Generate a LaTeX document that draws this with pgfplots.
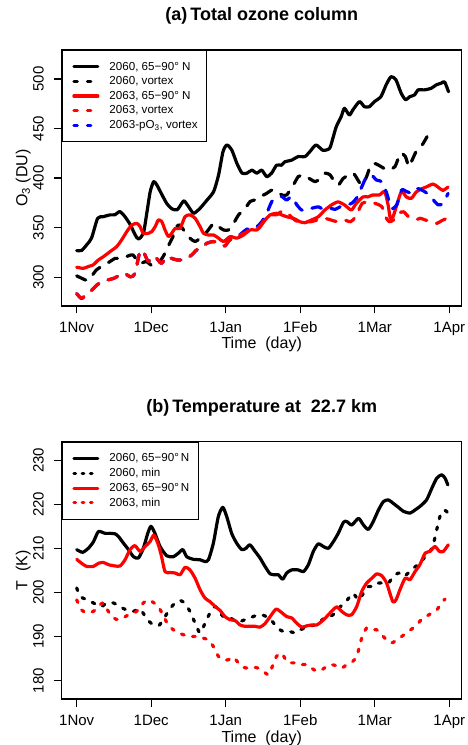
\documentclass[border=0pt]{standalone}
\usepackage{fontspec}
\setmainfont{Liberation Sans}
\usepackage{pgfplots}
\pgfplotsset{compat=1.18}
\begin{document}
\begin{tikzpicture}[x=1pt,y=1pt]
\path[use as bounding box] (0pt,0pt) rectangle (467pt,745pt);
\clip (0pt,0pt) rectangle (467pt,745pt);
\pgfplotsset{
 myaxis/.style={
  scale only axis, width=400pt,
  xmin=-6.08, xmax=156.03,
  xtick={0,30.2,60.4,90.6,120.8,151},
  xticklabels={1Nov,1Dec,1Jan,1Feb,1Mar,1Apr},
  tick align=outside, major tick length=7.5pt,
  xtick pos=left, ytick pos=left,
  tick style={black, line width=1.2pt},
  axis line style={line width=1.2pt},
  ticklabel style={font=\fontsize{15}{15}\selectfont},
  /pgf/number format/assume math mode=true,
  yticklabel style={rotate=90, anchor=base},
  yticklabel shift=10.5pt,
  xticklabel style={anchor=base},
  xticklabel shift=18.8pt,
  label style={font=\fontsize{16}{16}\selectfont},
  xlabel={Time\ \ (day)},
  xlabel style={at={(axis description cs:0.5,0)}, anchor=base, yshift=-43pt},
  ylabel style={at={(axis description cs:-0.08575,0.5)}, anchor=base},
  title style={at={(axis description cs:0.5,1)}, anchor=base, yshift=23pt, font=\bfseries\fontsize{18}{18}\selectfont},
  legend cell align=left,
  legend style={at={(0,1)}, anchor=north west, draw=black, line width=1.2pt, fill=white,
    font=\fontsize{11.6}{14}\selectfont, inner xsep=7pt, inner ysep=9.5pt, row sep=1pt,
    /tikz/every odd column/.style={column sep=8pt}},
  legend image code/.code={\path (0pt,0pt); \draw[##1] (3pt,0pt) -- (27pt,0pt);},
  every axis plot/.append style={line width=3.2pt, line cap=round, line join=round, smooth, tension=0.4},
 },
 dsh/.style={dash pattern=on 10pt off 10pt},
 dot/.style={dash pattern=on 2.8pt off 8.5pt},
 ldsh/.style={dash pattern=on 3.5pt off 10pt, line width=3.2pt, line cap=round},
 ldot/.style={dash pattern=on 1.6pt off 6.7pt, line width=3.2pt, line cap=round},
 lsol/.style={line width=3.2pt},
}
\begin{axis}[myaxis, at={(61.7pt,439pt)}, anchor=south west, height=256pt,
  ymin=271, ymax=529.2, ytick={300,350,400,450,500},
  ylabel={O\textsubscript{3} (DU)},
  title={(a)\,Total ozone column}]
\addlegendimage{lsol, black}\addlegendentry{2060, 65−90° N}
\addlegendimage{ldsh, black}\addlegendentry{2060, vortex}
\addlegendimage{lsol, red}\addlegendentry{2063, 65−90° N}
\addlegendimage{ldsh, red}\addlegendentry{2063, vortex}
\addlegendimage{ldsh, blue}\addlegendentry{2063-pO\textsubscript{3}, vortex}
% 2060 65-90N
\addplot[black, forget plot] coordinates {(0,326.9)(2,327)(4,332.6)(6,339.4)(8.5,359.5)(10.8,361.1)(13.5,362.9)(15.5,363)(17.5,366.2)(19.6,361)(21.7,353)(23.7,342.7)(25,338.6)(27,344)(28.4,364.5)(29.8,386.4)(31.2,396.4)(32.5,393)(34.6,383)(36.6,374)(38.6,369)(40.7,368)(42.7,375)(43.6,377)(45.4,371)(47.4,364.5)(50,369.6)(52.8,377.8)(55.5,386.4)(57.5,403.2)(59.3,426.7)(60.9,433.4)(62.9,428)(64.9,415)(67,405)(69,405)(71,408)(73,405)(75,408)(77,401.5)(79,405)(81,413)(83,413)(84.4,416.5)(87,418)(89.8,421.7)(92.5,421.7)(94.5,426.7)(97,433.4)(99.8,428)(102.5,430)(103.8,440)(105.2,451.9)(107.2,462)(108.5,470.4)(110.5,463.6)(111.9,468.7)(114.6,477.1)(116.6,472)(118.6,472)(120.6,477)(123.3,482.2)(125.4,494)(127.4,502.3)(129.4,499)(131.5,485.6)(133.3,479)(134.9,482)(137,484)(138.3,488.9)(141,489)(143.7,490.6)(145.7,494)(147.7,495.7)(149.1,497)(150.7,487)};
% 2060 vortex
\addplot[black, dsh, forget plot] coordinates {(0,301.4)(2,299)(4.4,296.7)(6,300.8)(8,307.4)(10.8,312)(13.5,315.8)(15.5,319)(17.5,319)(20,320.7)(22.8,322.5)(25.4,314)(28.2,315.8)(31,310.8)(33,314)(35,320.7)(37,330.9)(39,341)(40.5,351)(41.8,352.6)(43.8,346)(45.9,339.4)(48,336)(50,339.4)(52.8,346)(55.5,354.3)(57.5,351)(59.5,347.7)(61.5,347.7)(63.5,354)(65.6,362.9)(68.3,369.6)(70.3,376.4)(72.3,378)(74.4,381.3)(77,384.6)(79.1,388)(81.1,386.4)(83.1,383)(85.1,383)(87.8,393)(89.8,401.5)(92,403)(94,400)(96.7,396.4)(98.7,399.7)(100.8,405)(102.8,403)(104,398)(106,393)(108,399.7)(110.2,403)(112.1,405)(113.5,400)(115.5,393)(117.5,401.5)(118.9,411.6)(120.4,415)(122.4,413)(124.4,410)(126.4,408)(129,411.6)(131.2,425)(133.2,421.7)(134.6,411.6)(135.9,418)(137.9,428.4)(140,433.4)(142,441.8)};
% 2063 65-90N
\addplot[red, forget plot] coordinates {(0,310.1)(2.7,309)(4.7,310.8)(6.7,312.5)(8.8,317.5)(10.8,320.7)(13.5,325.8)(16.2,330.9)(18.2,337.6)(20.3,346)(22.3,352.6)(24.4,354.3)(25.7,351)(27,344.3)(29.1,344.3)(30.4,346)(31.8,351)(33.1,357.8)(34.5,356)(35.8,347.7)(37.2,341)(38.5,344.3)(39.9,349.3)(41.9,349.3)(43.9,361.1)(45.9,362.9)(48,359.5)(50,351)(51.4,344.3)(53.4,342.6)(55.5,342.6)(57.5,339.4)(59.5,336)(62.2,341)(64.9,339.4)(67.6,342.6)(70.3,347.7)(73,347.7)(74.4,351)(76.4,357.8)(78.4,362.9)(81.1,364.5)(83.1,362.9)(85.1,361)(87.8,359.5)(90.5,356)(92.5,355)(95.2,357.8)(97.9,361)(100.6,367.8)(103.2,372.8)(105.9,376)(108.6,372.8)(111.3,367.8)(113.3,374.5)(116,381)(118,381)(120,383)(122.7,383)(124.8,386.4)(126.2,373)(127.1,359.5)(128.2,361)(129.5,371)(131.6,386.4)(133.6,381)(135.6,379.5)(137.6,386)(139.6,389)(141.6,391)(144.4,394)(146.4,391)(148.4,387.6)(150.5,391)};
% 2063-pO3 vortex (blue)
\addplot[blue, dsh, forget plot] coordinates {(0,283.5)(2,278.5)(4,283.5)(6.1,287)(8.1,292)(10.1,295.3)(12.1,297)(14.8,298.7)(17.5,302)(19.5,303.7)(21.8,300.4)(23.6,303.7)(25.6,325.9)(27,325.9)(29,315.8)(30.4,320.7)(32.4,319)(34.4,314)(36.4,320.7)(38.5,319)(40.5,317.5)(42.5,317.5)(44.6,319)(46.6,322.5)(48.6,327.5)(50.6,329.2)(52.7,334.2)(55.3,336)(58,334.2)(60,331.5)(62,337.6)(64,339.4)(66,342.6)(68.5,347.7)(71,351)(73,351)(75,356)(77,364.5)(79.1,376.4)(81.1,379.7)(83.1,381.3)(85.1,378)(87.2,381.3)(89.2,373)(91.2,367.8)(93.3,367.8)(95.3,369.6)(98,371)(100,368.4)(102.7,369.6)(104.7,368.4)(106.7,371)(109.4,372.8)(111.4,374.5)(113.4,379.7)(115.5,391)(117.5,401.5)(119.5,403)(121.5,398)(123.6,396.4)(125.6,385)(127.6,369.6)(129.7,373)(131.7,388)(133.7,386.4)(135.7,385)(137.8,389.6)(139.8,388)(141.8,385)(144.5,378)(146.5,373)(148.5,374.5)(150.5,384.6)};
% 2063 vortex (red dashed)
\addplot[red, dsh, forget plot] coordinates {(0,283.5)(2,278.5)(4,283.5)(6.1,287)(8.1,292)(10.1,295.3)(12.1,297)(14.8,298.7)(17.5,302)(19.5,303.7)(21.8,300.4)(23.6,303.7)(25.6,325.9)(27,325.9)(29,315.8)(30.4,320.7)(32.4,319)(34.4,314)(36.4,320.7)(38.5,319)(40.5,317.5)(42.5,317.5)(44.6,319)(46.6,322.5)(48.6,327.5)(50.6,329.2)(52.7,334.2)(55.3,336)(58,334.2)(60,331.5)(62,337.6)(64,339.4)(66,342.6)(68,344.3)(70.1,347.7)(72.1,347.7)(74.1,351)(76.1,357.8)(78.2,362.9)(80.9,362.9)(83.5,367)(85.5,364.5)(87.5,359.5)(89.6,356)(92.2,356)(94.9,356)(97.6,357.8)(100.3,359.5)(103,357.8)(105.6,356)(108.3,357.8)(111,356)(113,361)(115.7,374.5)(118.4,376)(121,374.5)(123.7,371)(125.1,361)(126.7,356)(128.4,357.8)(130.5,364.5)(132.5,366)(134.5,361)(137.2,357.8)(139.2,359.5)(141.2,357.8)(143.9,356)(145.9,354.3)(147.9,357)(150,359.5)};
\end{axis}
\begin{axis}[myaxis, at={(61.7pt,46pt)}, anchor=south west, height=257.3pt,
  ymin=175.8, ymax=234.2, ytick={180,190,200,210,220,230},
  ylabel={T\ \ (K)},
  title={(b)\,Temperature at\ \ 22.7 km}]
\addlegendimage{lsol, black}\addlegendentry{\makebox[80pt][l]{2060, 65−90°\,N}}
\addlegendimage{ldot, black}\addlegendentry{\makebox[80pt][l]{2060, min}}
\addlegendimage{lsol, red}\addlegendentry{\makebox[80pt][l]{2063, 65−90°\,N}}
\addlegendimage{ldot, red}\addlegendentry{\makebox[80pt][l]{2063, min}}
% 2060 65-90N
\addplot[black, forget plot] coordinates {(0,209.7)(2.4,209.1)(4.7,210)(6.8,211.5)(8.8,213.8)(11.5,213.4)(13.5,213.4)(15.5,213.3)(16.9,212.7)(18.9,211.2)(21,209.7)(23,208.1)(25,207.8)(27,210)(28.8,213.4)(30.1,215)(31.7,213.4)(33.8,210.4)(36.5,208.3)(39.2,208.1)(41.2,208.9)(43,209.7)(44.6,208.1)(47.3,207.5)(50,207.4)(52,207)(53.4,207.4)(55.4,211.2)(57.4,217.2)(59.2,219.3)(60.8,217.2)(62.8,213.4)(64.8,211.2)(66.9,209.7)(68.6,210)(70.2,210.8)(72.3,209.3)(74.3,207.8)(76.3,205.9)(78.4,204.2)(80.4,204)(81.7,204)(83.5,203)(85.1,204.4)(87.1,205.1)(89.8,205.1)(91.9,204.7)(93.9,206.3)(95.9,209.3)(97.9,211)(100,210.4)(102,210)(104,211.5)(106,213.4)(108.1,215.9)(109.4,216.1)(111.5,215.3)(114.2,216.8)(116.2,215.3)(118.2,214.3)(120.2,216.1)(122.3,218.7)(124.3,220.6)(126.3,221)(128.3,220.2)(130.4,219.3)(132.4,218.4)(135.1,218)(137.1,218.7)(139.1,219.5)(141.8,221)(143.9,223.6)(145.9,225.9)(147.9,226.7)(149.3,225.9)(150.4,224.4)};
% 2060 min
\addplot[black, dot, forget plot] coordinates {(0,201)(1.4,199.1)(3.4,198.5)(5.4,198)(8.1,197.2)(10.1,196.8)(12.2,197.6)(14.9,197.6)(17.6,196.7)(20.3,196)(23,195.7)(25.7,196.2)(28.4,194)(30.4,192.9)(33.1,192.4)(35.1,193.8)(37.1,195.7)(39.2,197.2)(41.9,198.2)(43.9,197.4)(45.9,195.7)(48,193)(50,190.8)(52,193)(54,195.3)(56.1,196.8)(58.1,195.3)(60.1,194.2)(62.1,194.2)(64.2,193.6)(66.2,193.4)(68.2,193.8)(70.2,194.2)(73,194.8)(75.6,194.8)(78.4,194)(80.4,192.6)(82.4,191.5)(84.4,191)(86.5,191.1)(88.5,190.8)(90.5,191.5)(92.5,191.9)(94.6,192.4)(96.6,192.6)(98.6,193.4)(100.6,194.2)(102.7,194.5)(104.7,195.3)(106.7,196.7)(108.7,197.6)(110.8,199.1)(112.1,199.8)(114.2,198.3)(116.2,199.8)(118.2,201.3)(120.2,201.3)(122.3,202.1)(124.3,202.1)(126.3,202.1)(128.3,203.6)(130.4,204.4)(132.4,203.6)(134.4,204.4)(136.4,205.5)(139.1,206.6)(141.2,208.1)(143.2,209.3)(144.5,210.8)(145.9,214.2)(147.2,217.2)(148.8,218.7)(150.4,218.1)};
% 2063 65-90N
\addplot[red, forget plot] coordinates {(0,207.5)(2,206.6)(4,205.9)(6.8,205.9)(8.8,206.6)(10.8,206.8)(12.8,206.3)(15.5,206)(17.6,206)(19.6,207.4)(21.6,209.7)(23.6,210.6)(25.7,209.3)(27.7,210.4)(29.7,211.5)(31.3,213)(33.1,210.8)(34.4,208.1)(35.8,204.7)(37.8,204.5)(39.9,204.4)(41.9,204)(43.9,205.7)(45.9,205.1)(48,203.2)(50,200.6)(52,198.7)(54,197.9)(56.1,196.8)(58.1,195.9)(60.1,194.5)(62.1,193.8)(64.2,193.6)(66.2,192.6)(68.2,192.3)(70.2,192.3)(72.3,192.3)(74.3,192.1)(76.3,192.9)(78.4,194.5)(80.8,196.2)(83.1,195.4)(85.1,194.5)(87.1,194.2)(89.2,193)(91.2,192.1)(93.2,192.4)(95.2,192.6)(97.3,192.6)(99.3,193.4)(101.3,194.5)(103.3,195.7)(105.4,196.7)(107.4,195.7)(109.4,194.9)(111.4,194.9)(113.5,196.8)(115.5,200.2)(117.5,202.1)(119.6,203.2)(121.6,204.2)(123.6,203.8)(125.6,202.1)(128.1,197.9)(129.4,198.3)(131,200.6)(133.1,203.2)(135.1,202.9)(137.1,204.7)(139.1,206.3)(141.2,208.9)(143.2,209.3)(145.2,210.4)(147,209.3)(148.6,209.3)(150.6,210.8)};
% 2063 min
\addplot[red, dot, forget plot] coordinates {(0,198.3)(2,196)(4,195.4)(6.8,195.7)(8.8,196.8)(10.8,197.6)(12.8,195.7)(14.9,194.2)(16.9,193.8)(18.9,194.2)(20.9,194.9)(23,195.3)(25,196)(27,197.6)(29,198.3)(31.1,197.7)(33.1,196.8)(35.1,194.7)(37.1,192.6)(39.2,191.5)(41.2,190.8)(43.2,190.4)(45.3,190)(47.3,190)(49.3,190)(51.3,189.6)(53.4,189.2)(55.4,187.7)(57.4,185.5)(59.4,184.7)(61.5,184.7)(63.5,185.3)(65.5,184)(67.5,183)(69.6,182.8)(71.6,183)(73.6,182.8)(75.6,182.1)(77.7,181.3)(79,182.8)(81,185.5)(83.1,186.2)(85.1,184.3)(87.1,184)(89.2,184)(91.2,183.6)(93.2,183.6)(95.2,182.8)(97.3,182.1)(99.3,182.4)(101.3,183.2)(103.3,183.6)(105.4,183.3)(107.4,182.8)(109.4,183.6)(111.4,184.1)(113.5,185.5)(115.5,189.6)(117.5,191.9)(119.6,191.5)(121.6,191.5)(123.6,190.4)(125.6,189.2)(127.6,188.5)(129.7,189.2)(131.7,190)(133.7,190.8)(135.8,191.7)(137.8,192.6)(139.8,193.9)(141.8,194.6)(143.9,195.3)(145.9,196)(147.9,197.6)(149.3,198.5)};
\end{axis}
\end{tikzpicture}
\end{document}
